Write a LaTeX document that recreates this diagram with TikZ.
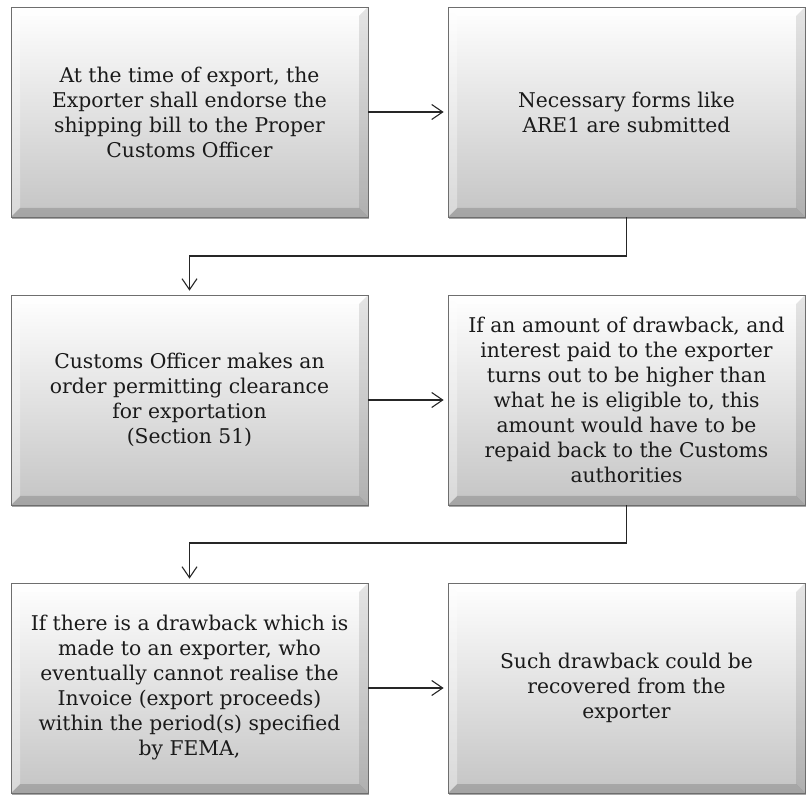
\documentclass[tikz,border=0pt]{standalone}
\usepackage{fontspec}
\setmainfont{DejaVu Serif}
\usetikzlibrary{calc,shadows,arrows.meta}
\definecolor{txt}{HTML}{1A1A1A}
\definecolor{edge}{HTML}{6E6E6E}
\tikzset{
  bevbox/.style={rectangle, draw=edge, line width=0.7pt,
    minimum width=357pt, minimum height=210pt, inner sep=0pt,
    top color=white, middle color=white!95!black, bottom color=black!23,
    text=txt, align=center, font=\fontsize{20.3}{25}\selectfont,
    drop shadow={shadow xshift=1.2pt, shadow yshift=-2pt, opacity=.35, fill=black},
    path picture={
      \coordinate (pA) at (path picture bounding box.north west);
      \coordinate (pB) at (path picture bounding box.north east);
      \coordinate (pC) at (path picture bounding box.south east);
      \coordinate (pD) at (path picture bounding box.south west);
      \fill[white,opacity=.75] (pA)--(pB)--($(pB)+(-9pt,-9pt)$)--($(pA)+(9pt,-9pt)$)--cycle;
      \fill[black,opacity=.10] (pB)--(pC)--($(pC)+(-9pt,9pt)$)--($(pB)+(-9pt,-9pt)$)--cycle;
      \fill[black,opacity=.16] (pC)--(pD)--($(pD)+(9pt,9pt)$)--($(pC)+(-9pt,9pt)$)--cycle;
      \fill[white,opacity=.35] (pD)--(pA)--($(pA)+(9pt,-9pt)$)--($(pD)+(9pt,9pt)$)--cycle;
    }},
  conn/.style={draw=black!85, line width=1.1pt, shorten >=4pt,
    -{Straight Barb[length=11pt,width=15pt,line width=1.1pt]}}
}
\begin{document}
\begin{tikzpicture}[x=1pt,y=-1pt]
\useasboundingbox (0,0) rectangle (809,799);
\node[bevbox] (b1) at (189.5,112) {At the time of export, the\\Exporter shall endorse the\\shipping bill to the Proper\\Customs Officer};
\node[bevbox] (b2) at (626.5,112) {Necessary forms like\\ARE1 are submitted};
\node[bevbox] (b3) at (189.5,400) {Customs Officer makes an\\order permitting clearance\\for exportation\\(Section 51)};
\node[bevbox] (b4) at (626.5,400) {If an amount of drawback, and\\interest paid to the exporter\\turns out to be higher than\\what he is eligible to, this\\amount would have to be\\repaid back to the Customs\\authorities};
\node[bevbox] (b5) at (189.5,688) {If there is a drawback which is\\made to an exporter, who\\eventually cannot realise the\\Invoice (export proceeds)\\within the period(s) specified\\by FEMA,};
\node[bevbox] (b6) at (626.5,688) {Such drawback could be\\recovered from the\\exporter};
\coordinate (k1) at (626.5,256);
\coordinate (k2) at (189.5,256);
\coordinate (k3) at (626.5,543);
\coordinate (k4) at (189.5,543);
\draw[conn] (b1.east) -- (b2.west);
\draw[conn] (b2.south) -- (k1) -- (k2) -- (b3.north);
\draw[conn] (b3.east) -- (b4.west);
\draw[conn] (b4.south) -- (k3) -- (k4) -- (b5.north);
\draw[conn] (b5.east) -- (b6.west);
\end{tikzpicture}
\end{document}
